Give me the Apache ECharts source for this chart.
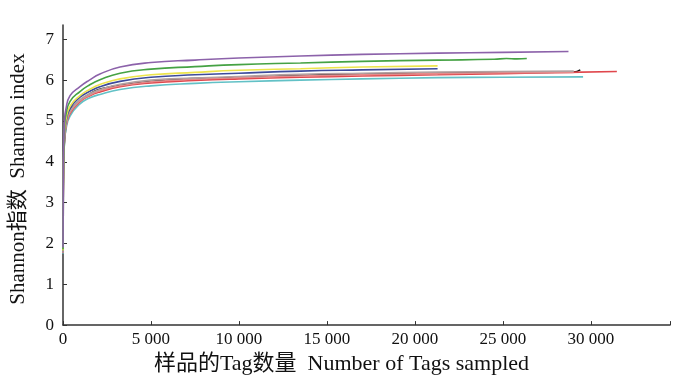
<!DOCTYPE html>
<html>
<head>
<meta charset="utf-8">
<script src="https://cdn.jsdelivr.net/npm/echarts@6/dist/echarts.min.js"></script>
<style>
    html, body { margin: 0; padding: 0; background: #fff; }
    #shannon { width: 700px; height: 380px; }
</style>
</head>
<body>
<div id="shannon"></div>
<script>
// 稀释曲线数据 [Tag数, Shannon指数]
const purple = [[1, 1.9], [10, 3.2], [30, 4.2], [85, 5.0], [170, 5.3], [400, 5.62], [965, 5.84], [1500, 6.0], [2100, 6.15], [3240, 6.32], [5000, 6.43], [7500, 6.49], [10000, 6.54], [13500, 6.59], [17000, 6.63], [21290, 6.66], [25000, 6.68], [28730, 6.70]]
const green = [[1, 1.86], [10, 3.09], [30, 4.06], [85, 4.86], [170, 5.16], [400, 5.48], [965, 5.72], [1500, 5.88], [2100, 6.01], [3240, 6.17], [5000, 6.27], [7500, 6.33], [10000, 6.38], [13500, 6.42], [17000, 6.46], [21290, 6.49], [24500, 6.51], [25200, 6.53], [25800, 6.52], [26360, 6.53]]
const yellow = [[1, 1.82], [10, 2.99], [30, 3.94], [85, 4.74], [170, 5.04], [400, 5.36], [965, 5.62], [1500, 5.77], [2100, 5.89], [3240, 6.03], [5000, 6.13], [7500, 6.19], [10000, 6.24], [13500, 6.28], [17000, 6.32], [21290, 6.35]]
const navy = [[1, 1.81], [10, 2.95], [30, 3.89], [85, 4.69], [170, 4.99], [400, 5.31], [965, 5.58], [1500, 5.72], [2100, 5.84], [3240, 5.97], [5000, 6.07], [7500, 6.13], [10000, 6.17], [13500, 6.22], [17000, 6.25], [21290, 6.28]]
const gray = [[1, 1.78], [10, 2.89], [30, 3.82], [85, 4.62], [170, 4.92], [400, 5.24], [965, 5.52], [1500, 5.66], [2100, 5.77], [3240, 5.9], [5000, 6.0], [7500, 6.05], [10000, 6.09], [13500, 6.14], [17000, 6.17], [21290, 6.2], [25000, 6.21], [29030, 6.22]]
const pink = [[1, 1.78], [10, 2.87], [30, 3.79], [85, 4.59], [170, 4.89], [400, 5.21], [965, 5.49], [1500, 5.63], [2100, 5.74], [3240, 5.86], [5000, 5.96], [7500, 6.02], [10000, 6.06], [13500, 6.1], [17000, 6.13], [21290, 6.16], [25000, 6.18], [29030, 6.19]]
const red = [[1, 1.77], [10, 2.85], [30, 3.76], [85, 4.56], [170, 4.86], [400, 5.18], [965, 5.47], [1500, 5.61], [2100, 5.71], [3240, 5.84], [5000, 5.93], [7500, 5.99], [10000, 6.03], [13500, 6.07], [17000, 6.1], [21290, 6.13], [25000, 6.16], [28730, 6.19], [31480, 6.21]]
const cyan = [[1, 1.75], [10, 2.8], [30, 3.7], [85, 4.5], [170, 4.8], [400, 5.12], [965, 5.42], [1500, 5.56], [2100, 5.65], [3240, 5.77], [5000, 5.86], [7500, 5.92], [10000, 5.96], [13500, 6.0], [17000, 6.03], [21290, 6.06], [25000, 6.07], [29560, 6.08]]
const black = [[1, 1.78], [30, 3.8], [170, 4.9], [965, 5.5], [3240, 5.87], [10000, 6.07], [21290, 6.17], [29030, 6.2], [29400, 6.25]]

const xTicks = [0, 5000, 10000, 15000, 20000, 25000, 30000]
const yTicks = [0, 1, 2, 3, 4, 5, 6, 7]

function line(data, color, z) {
    return {
        type: 'line',
        data: data,
        showSymbol: false,
        smooth: 0.5,
        z: z,
        lineStyle: {
            color: color,
            width: 1.6
        }
    }
}

function setShannonChart() {
    const myChart = echarts.init(document.getElementById("shannon"))
    const fontFamily = '"Liberation Serif", "Noto Sans CJK SC", serif'
    const axisFont = {
        fontFamily: fontFamily,
        fontSize: 17,
        color: '#111'
    }
    const option = {
        animation: false,
        grid: {
            left: 63,
            right: 30,
            top: 25,
            bottom: 49
        },
        xAxis: {
            type: 'value',
            min: 0,
            max: 34500,
            name: '样品的Tag数量  Number of Tags sampled',
            nameLocation: 'middle',
            nameGap: 25,
            nameTextStyle: {
                fontFamily: fontFamily,
                fontSize: 22,
                color: '#111',
                padding: [0, 50, 0, 0]
            },
            splitLine: { show: false },
            axisLine: { lineStyle: { color: '#333', width: 1.5 } },
            axisTick: {
                inside: true,
                length: 4,
                customValues: xTicks.concat([34500]),
                lineStyle: { color: '#333' }
            },
            axisLabel: Object.assign({
                customValues: xTicks,
                margin: 6,
                formatter: function (v) {
                    return v >= 1000 ? Math.floor(v / 1000) + ' 000' : String(v)
                }
            }, axisFont)
        },
        yAxis: {
            type: 'value',
            min: 0,
            max: 7.35,
            name: 'Shannon指数  Shannon index',
            nameLocation: 'middle',
            nameGap: 34,
            nameTextStyle: {
                fontFamily: fontFamily,
                fontSize: 21,
                color: '#111',
                padding: [0, 8, 0, 0]
            },
            splitLine: { show: false },
            axisLine: { show: true, lineStyle: { color: '#333', width: 1.5 } },
            axisTick: {
                show: true,
                inside: true,
                length: 4,
                customValues: yTicks,
                lineStyle: { color: '#333' }
            },
            axisLabel: Object.assign({
                customValues: yTicks,
                margin: 9
            }, axisFont)
        },
        series: [
            line(black, '#111111', 1),
            line(cyan, '#62c1c6', 2),
            line(red, '#e0474c', 3),
            line(pink, '#e68a8a', 4),
            line(gray, '#b3a0a0', 5),
            line(navy, '#3d4b9b', 6),
            line(yellow, '#ece44c', 7),
            line(green, '#45a244', 8),
            line(purple, '#8c62aa', 9)
        ]
    }
    myChart.setOption(option)
}

setShannonChart()
</script>
</body>
</html>
